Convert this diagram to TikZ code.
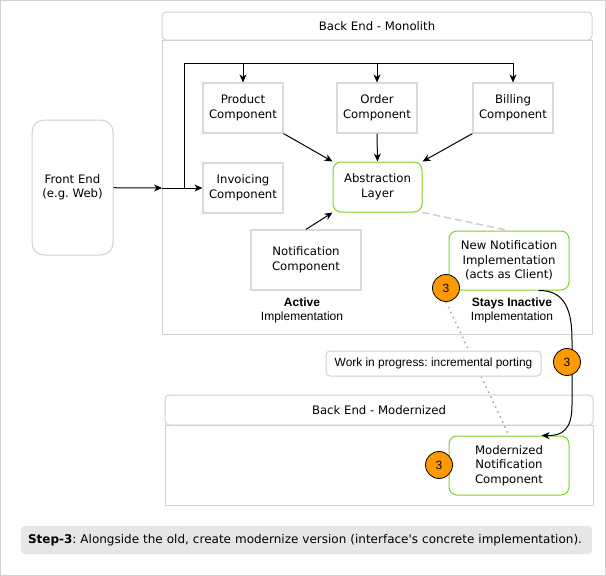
\documentclass[tikz,border=0pt]{standalone}
\usepackage{fontspec}
\setmainfont{DejaVu Sans}[Ligatures=TeXOff]
\newfontfamily\helv{Liberation Sans}
\usetikzlibrary{arrows.meta,positioning}
\frenchspacing

\definecolor{framegray}{HTML}{D0D0D0}
\definecolor{boxgray}{HTML}{D9D9D9}
\definecolor{limegreen}{HTML}{7ED321}
\definecolor{badgeorange}{HTML}{FF9900}
\definecolor{capgray}{HTML}{E6E6E6}

\begin{document}
\begin{tikzpicture}[
  x=1pt, y=-1pt,
  font=\fontsize{11.7}{14.5}\selectfont,
  comp/.style={draw=boxgray, line width=1.2pt, fill=white, align=center, inner sep=0pt,
               minimum width=80pt, minimum height=50pt},
  greenbox/.style={draw=limegreen, line width=1pt, fill=white, rounded corners=8pt,
                   align=center, inner sep=0pt, minimum width=120pt, minimum height=59pt},
  header/.style={draw=framegray, line width=1pt, rounded corners=4pt, inner sep=0pt},
  body/.style={draw=framegray, line width=1pt, inner sep=0pt},
  badge/.style={circle, draw=black, line width=0.8pt, fill=badgeorange, inner sep=0pt,
                minimum size=27pt, font=\helv\fontsize{12}{14}\selectfont},
  note/.style={font=\helv\fontsize{12}{14}\selectfont, align=center},
  arr/.style={line width=1pt, -{Stealth[length=8pt, width=7pt, inset=2.5pt]}},
  link/.style={line width=1pt}
]
  \useasboundingbox (0,0) rectangle (606,576);
  \draw[framegray] (0.5,0.5) rectangle (605.5,575.5);

  % Front end
  \node[draw=framegray, line width=1pt, rounded corners=12pt, minimum width=81pt,
        minimum height=135pt, align=center, inner sep=0pt] (fe) at (72.5,187.5)
        {Front End\\(e.g. Web)};

  % Back end - monolith
  \node[header, minimum width=430pt, minimum height=28pt] (monohead) at (377,26)
        {Back End - Monolith};
  \node[body, minimum width=430pt, minimum height=294pt] (monobody) at (377,187) {};

  \node[comp] (prod)  at (243,108) {Product\\Component};
  \node[comp] (order) at (377,108) {Order\\Component};
  \node[comp] (bill)  at (513,108) {Billing\\Component};
  \node[comp] (invo)  at (243,188) {Invoicing\\Component};
  \node[greenbox, minimum width=89pt, minimum height=50pt] (abs) at (377.5,187)
        {Abstraction\\Layer};
  \node[comp, minimum width=110pt, minimum height=60pt] (notif) at (306,260)
        {Notification\\Component};
  \node[greenbox] (newimpl) at (509,260.5)
        {New Notification\\Implementation\\(acts as Client)};

  \node[note] (activelbl)   at (302,310) {\textbf{Active}\\Implementation};
  \node[note] (inactivelbl) at (512,310) {\textbf{Stays Inactive}\\Implementation};

  % Back end - modernized
  \node[header, minimum width=428pt, minimum height=30pt] (modhead) at (379,410)
        {Back End - Modernized};
  \node[body, minimum width=428pt, minimum height=80pt] (modbody) at (379,465) {};
  \node[greenbox] (modnotif) at (509,465.5)
        {Modernized\\Notification\\Component};

  % Requests from the front end
  \coordinate (entry) at (162,188);
  \coordinate (fork)  at (184,188);
  \coordinate (bus)   at (184,63);
  \draw[arr] (fe) -- (entry);
  \draw[arr] (entry) -- (invo.west);
  \draw[link] (fork) -- (bus) -- (bill.north |- bus);
  \foreach \c in {prod,order,bill}
    \draw[arr] (\c.north |- bus) -- (\c.north);

  % Calls into the abstraction layer
  \draw[arr] (prod.south east) -- (abs.north west);
  \draw[arr] (order.south) -- (abs.north);
  \draw[arr] (bill.south west) -- (abs.north east);
  \draw[arr] (notif.north) -- (abs.south west);
  \draw[gray!40, line width=1.5pt, dash pattern=on 7pt off 4pt]
    (abs.south east) -- (newimpl.north);

  % New implementation delegates to the modernized component
  \draw[arr] ([xshift=-31pt]newimpl.south east)
    .. controls (566,290) and (572,312) .. (572,340) -- (572,405)
    .. controls (572,430) and (562,436) .. ([xshift=-28pt]modnotif.north east);

  % Step markers
  \node[badge] (b1) at (446,288) {3};
  \node[badge] (b2) at (567,362) {3};
  \node[badge] (b3) at (439,465) {3};

  \draw[gray!70, line width=1.5pt, dash pattern=on 1.5pt off 4pt]
    (b1.south) -- (modnotif.north);
  \node[draw=framegray, line width=1pt, fill=white, rounded corners=4pt, inner sep=0pt,
        minimum width=215pt, minimum height=25pt, font=\helv\fontsize{11.9}{13}\selectfont]
        (wip) at (433.5,363.5) {Work in progress: incremental porting};

  % Caption
  \node[fill=capgray, rounded corners=4pt, inner xsep=7pt, inner ysep=0pt,
        minimum height=28pt, text width=557pt, align=left,
        font=\fontsize{12}{14.5}\selectfont] (caption) at (306.5,540)
        {\textbf{Step-3}: Alongside the old, create modernize version (interface's concrete implementation).};
\end{tikzpicture}
\end{document}
